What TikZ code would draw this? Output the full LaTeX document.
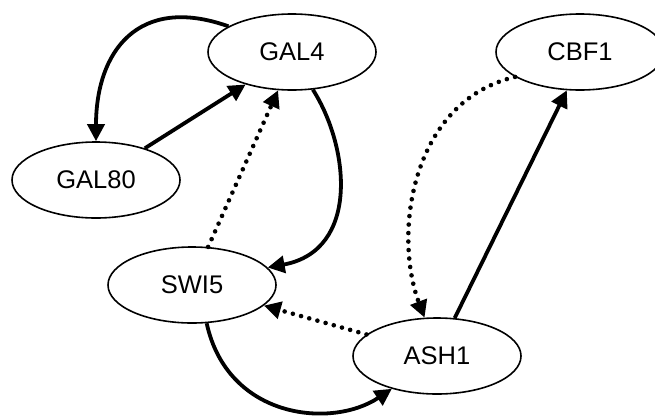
\documentclass[tikz,border=0pt]{standalone}
\usepackage{fontspec}
\setmainfont{Liberation Sans}
\usetikzlibrary{shapes.geometric,arrows.meta}
\begin{document}
\begin{tikzpicture}[x=1pt,y=-1pt,
  gene/.style={ellipse,draw,line width=1.6pt,minimum width=168pt,minimum height=76pt,inner sep=0pt,font=\fontsize{25.5}{30}\selectfont},
  act/.style={line width=3.8pt,-{Triangle[length=17pt,width=17pt]}},
  dots/.style={line width=4.6pt,line cap=round,dash pattern=on 0pt off 8.5pt,-{Triangle[length=17pt,width=17pt]}}]
\useasboundingbox (0,0) rectangle (655,418);
\node[gene] (g4) at (292,52) {GAL4};
\node[gene] (cb) at (580,52) {CBF1};
\node[gene] (g80) at (96,180) {GAL80};
\node[gene] (s5) at (192,285) {SWI5};
\node[gene] (a1) at (437,356) {ASH1};
% GAL4 -> GAL80
\draw[act] (g4.158) .. controls +(-90,-32) and +(0,-90) .. (g80.north);
% GAL80 -> GAL4
\draw[act] (g80.33) -- (g4.215);
% SWI5 -> GAL4 dotted
\draw[dots] (s5.67) -- (g4.250);
% GAL4 -> SWI5
\draw[act] (g4.299) .. controls +(37,58) and +(92,-17) .. (s5.13);
% ASH1 -> SWI5 dotted
\draw[dots] (a1.163) -- (s5.344);
% SWI5 -> ASH1
\draw[act] (s5.291) .. controls +(21,96) and +(-60,40) .. (a1.216);
% CBF1 -> ASH1 dotted
\draw[dots] (cb.201) .. controls +(-103,24) and +(-32,-85) .. (a1.108);
% ASH1 -> CBF1
\draw[act] (a1.65) -- (cb.251);
\end{tikzpicture}
\end{document}
